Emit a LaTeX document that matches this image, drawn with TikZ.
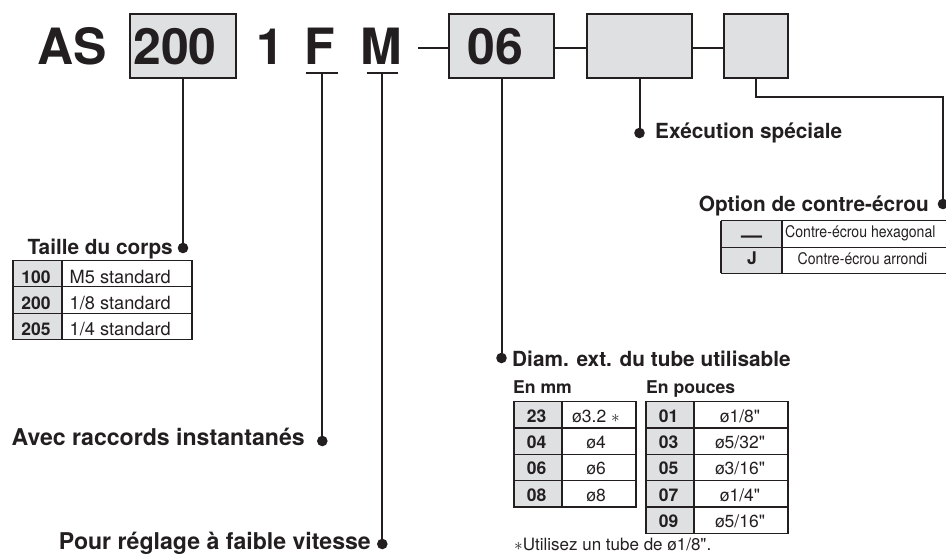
\documentclass[tikz,border=0pt]{standalone}
\usepackage{fontspec}
\setmainfont{TeX Gyre Heros}[Ligatures=TeXOff]
\newfontfamily\condfont{TeX Gyre Heros}[FakeStretch=0.88,Ligatures=TeXOff]
\newcommand\myfs[1]{\fontsize{#1}{#1}\selectfont}
\definecolor{ink}{HTML}{231F20}
\definecolor{boxgray}{HTML}{DFE0E1}
\begin{document}
\begin{tikzpicture}[x=1pt,y=-1pt,
  lead/.style={draw=ink,line width=2pt},
  codebox/.style={draw=ink,line width=2pt,fill=boxgray,inner sep=0pt,minimum height=64pt},
  big/.style={font=\myfs{50}\bfseries,text=ink,inner sep=0pt,anchor=base},
  head/.style={font=\myfs{20.8}\bfseries,text=ink,inner sep=0pt},
  headL/.style={font=\myfs{23.1}\bfseries,text=ink,inner sep=0pt},
  sub/.style={font=\myfs{17.6}\bfseries,text=ink,inner sep=0pt,anchor=base west},
  code/.style={font=\myfs{17.5}\bfseries,text=ink,inner sep=0pt,anchor=base},
  val/.style={font=\myfs{17.5},text=ink,inner sep=0pt,anchor=base},
  tval/.style={font=\myfs{18.2},text=ink,inner sep=0pt,anchor=base west},
  cval/.style={font=\condfont\myfs{16},text=ink,inner sep=0pt},
  tab/.style={draw=ink,line width=1.3pt},
  dotm/.style={fill=ink}
]
\useasboundingbox (0,0) rectangle (946,554);

% ---- code boxes ----
\node[codebox,minimum width=106pt] (b200) at (183,46) {};
\node[codebox,minimum width=105pt] (b06) at (501.5,46) {};
\node[codebox,minimum width=105pt] (bX) at (639.5,46) {};
\node[codebox,minimum width=64pt] (bJ) at (756,46) {};

% ---- title characters ----
\node[big,anchor=base west] (tAS) at (37,64) {AS};
\node[big] (t200) at (175,64) {200};
\node[big] (t1) at (270,64) {1};
\node[big] (tF) at (319.5,64) {F};
\node[big] (tM) at (381.5,64) {M};
\node[big] (t06) at (495,64) {06};

% ---- joins between boxes ----
\coordinate (dashL) at (418,48);
\draw[lead] (dashL) -- ([yshift=-2pt]b06.west);
\draw[lead] ([yshift=-2pt]b06.east) -- ([yshift=-2pt]bX.west);
\draw[lead] ([yshift=-2pt]bX.east) -- ([yshift=-2pt]bJ.west);

% ---- underlines ----
\coordinate (uFl) at (306,73); \coordinate (uFr) at (338.3,73); \coordinate (uF) at (322.3,73);
\coordinate (uMl) at (366.7,73); \coordinate (uMr) at (398.3,73); \coordinate (uM) at (382.3,73);
\draw[lead] (uFl) -- (uFr);
\draw[lead] (uMl) -- (uMr);

% ---- dot coordinates ----
\coordinate (dT) at (183,248);
\coordinate (dA) at (322.3,441);
\coordinate (dP) at (382.3,544);
\coordinate (dD) at (501.5,358);
\coordinate (dE) at (639.5,133);
\coordinate (kO) at (943,97.3);
\coordinate (dO) at (943,204);

% ---- leaders ----
\draw[lead] (b200.south) -- (dT);
\draw[lead] (uF) -- (dA);
\draw[lead] (uM) -- (dP);
\draw[lead] (b06.south) -- (dD);
\draw[lead] (bX.south) -- (dE);
\draw[lead] (bJ.south) |- (kO) -- (dO);
\foreach \d in {dT,dA,dP,dD,dE,dO} \fill[dotm] (\d) circle (5.3pt);

% ---- labels ----
\node[head,anchor=base east] (lT) at (173,254) {Taille du corps};
\node[head,anchor=base west] (lE) at (655,138) {Exécution spéciale};
\node[head,anchor=base east] (lO) at (929,211) {Option de contre-écrou};
\node[head,anchor=base west] (lD) at (512,366) {Diam. ext. du tube utilisable};
\node[sub] (lmm) at (513,393) {En mm};
\node[sub] (lin) at (646,393) {En pouces};
\node[headL,anchor=base east] (lA) at (305,445) {Avec raccords instantanés};
\node[headL,anchor=base east] (lP) at (371,549) {Pour réglage à faible vitesse};
\node[font=\myfs{17},text=ink,inner sep=0pt,anchor=base west] (fn) at (514,550) {$\ast$Utilisez un tube de ø1/8".};

% ---- table: Taille du corps ----
\fill[boxgray] (13,260.7) rectangle (62,339.3);
\draw[tab] (13,260.7) rectangle (192,339.3);
\draw[tab] (13,286.7) -- (192,286.7);
\draw[tab] (13,313.3) -- (192,313.3);
\draw[tab] (62,260.7) -- (62,339.3);
\node[code] (c100) at (36,283.3) {100};
\node[code] (c200) at (36,309.5) {200};
\node[code] (c205) at (36,335.7) {205};
\node[tval] (v100) at (69.5,283.3) {M5 standard};
\node[tval] (v200) at (69.5,309.5) {1/8 standard};
\node[tval] (v205) at (69.5,335.7) {1/4 standard};

% ---- table: option contre-ecrou ----
\fill[boxgray] (721,220.7) rectangle (782,273.3);
\draw[tab] (721,220.7) -- (946,220.7);
\draw[tab] (721,247.3) -- (946,247.3);
\draw[tab] (721,273.3) -- (946,273.3);
\draw[tab] (721,220.7) -- (721,273.3);
\draw[tab] (782,220.7) -- (782,273.3);
\node[font=\myfs{21}\bfseries,text=ink,inner sep=0pt,anchor=base] (oDash) at (751.5,242) {—};
\node[code] (oJ) at (752,264.5) {J};
\node[cval,anchor=base west] (oHex) at (785,237) {Contre-écrou hexagonal};
\node[cval,anchor=base] (oArr) at (862.5,264.5) {Contre-écrou arrondi};

% ---- table: mm ----
\fill[boxgray] (514,401.7) rectangle (562,506.9);
\draw[tab] (514,401.7) rectangle (636,506.9);
\foreach \yy in {428,454.3,480.6} \draw[tab] (514,\yy) -- (636,\yy);
\draw[tab] (562,401.7) -- (562,506.9);
\node[code] (m23) at (536.5,422.2) {23};
\node[code] (m04) at (536.5,448.5) {04};
\node[code] (m06) at (536.5,474.8) {06};
\node[code] (m08) at (536.5,501.1) {08};
\node[val] (v23) at (596,422.2) {ø3.2 $\ast$};
\node[val] (v04) at (596,448.5) {ø4};
\node[val] (v06) at (596,474.8) {ø6};
\node[val] (v08) at (596,501.1) {ø8};

% ---- table: inches ----
\fill[boxgray] (646,401.7) rectangle (694,533.2);
\draw[tab] (646,401.7) rectangle (788,533.2);
\foreach \yy in {428,454.3,480.6,506.9} \draw[tab] (646,\yy) -- (788,\yy);
\draw[tab] (694,401.7) -- (694,533.2);
\node[code] (i01) at (668.5,422.2) {01};
\node[code] (i03) at (668.5,448.5) {03};
\node[code] (i05) at (668.5,474.8) {05};
\node[code] (i07) at (668.5,501.1) {07};
\node[code] (i09) at (668.5,527.4) {09};
\node[val] (w01) at (740,422.2) {ø1/8"};
\node[val] (w03) at (740,448.5) {ø5/32"};
\node[val] (w05) at (740,474.8) {ø3/16"};
\node[val] (w07) at (740,501.1) {ø1/4"};
\node[val] (w09) at (740,527.4) {ø5/16"};
\end{tikzpicture}
\end{document}
